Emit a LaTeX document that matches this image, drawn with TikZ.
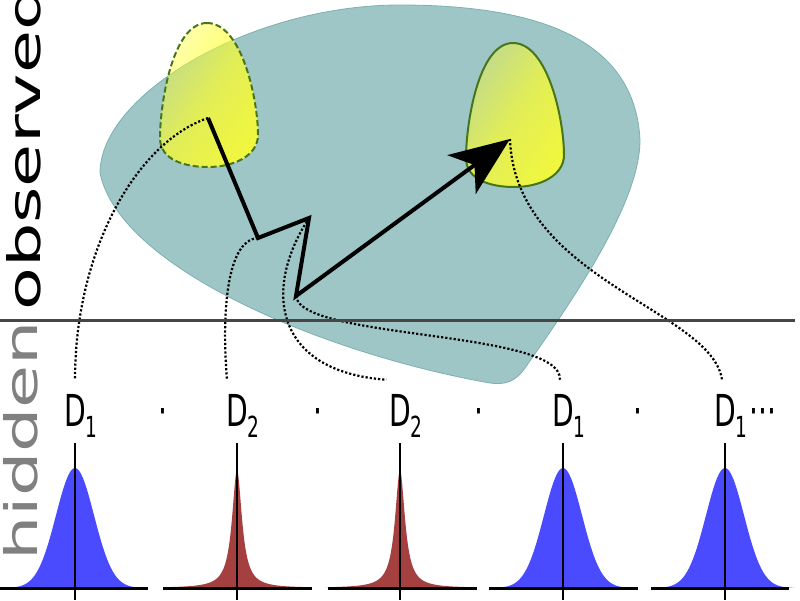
\documentclass[tikz,border=0pt]{standalone}
\usepackage{fontspec}
\setmainfont{DejaVu Sans}
\usetikzlibrary{calc, positioning}
\usetikzlibrary{arrows.meta, fadings}

\definecolor{blobteal}{RGB}{158,198,198}
\definecolor{blobedge}{RGB}{125,176,176}
\definecolor{eggyellow}{RGB}{255,255,40}
\definecolor{eggrim}{RGB}{70,118,25}
\definecolor{gaussblue}{RGB}{74,74,255}
\definecolor{cauchyred}{RGB}{165,64,64}
\definecolor{splitgray}{RGB}{70,70,70}

\begin{tikzfadingfrompicture}[name=egg fade]
	\shade[top color=transparent!95, bottom color=transparent!0, middle color=transparent!30,
	       shading angle=45]
		(-50bp,-50bp) rectangle (50bp,50bp);
\end{tikzfadingfrompicture}

\tikzset{
	egg/.style      = {line width=2pt, draw=eggrim},
	dotlink/.style  = {line width=2.2pt, dash pattern=on 2.2pt off 2pt},
	jump/.style     = {line width=4pt, -{Stealth[length=60pt, width=48pt, inset=16pt]}},
	dlabel/.style   = {anchor=base, inner xsep=4pt, inner ysep=14pt, xscale=.64,
	                   font=\fontsize{44}{44}\selectfont},
	sidetext/.style = {anchor=base west, inner sep=0pt, rotate=90, yscale=.64,
	                   font=\fontsize{70}{70}\selectfont},
	baseaxis/.style = {line width=3pt},
	peakaxis/.style = {line width=1.5pt}
}

\newcommand{\eggpath}{(207,23) .. controls (172,23) and (160,105) .. (160,138)
	.. controls (160,160) and (185,167) .. (208,167)
	.. controls (235,167) and (258,155) .. (258,135)
	.. controls (258,100) and (242,23) .. (207,23) -- cycle}
\newcommand{\dsub}[1]{\raisebox{-11pt}{\fontsize{29}{29}\selectfont #1}}

\begin{document}
\begin{tikzpicture}[x=1pt, y=-1pt]
	\useasboundingbox (0,0) rectangle (800,600);

	% observed region
	\fill[blobteal, draw=blobedge, line width=.8pt]
		(100,173) .. controls (100,95) and (250,5) .. (400,5)
		.. controls (540,5) and (635,40) .. (640,140)
		.. controls (640,200) and (580,290) .. (525,368)
		.. controls (515,382) and (505,385) .. (490,383)
		.. controls (330,355) and (120,270) .. (100,173) -- cycle;
	\fill[eggyellow, path fading=egg fade] \eggpath;
	\draw[egg, dash pattern=on 6pt off 3pt] \eggpath;
	\begin{scope}[shift={(306,20)}]
		\fill[eggyellow, path fading=egg fade] \eggpath;
		\draw[egg] \eggpath;
	\end{scope}

	\coordinate (egga) at (208,118);
	\coordinate (eggb) at (510,139);
	\coordinate (zz1)  at (258,238);
	\coordinate (zz2)  at (309,218);
	\coordinate (zz3)  at (296,296);

	% hidden states
	\foreach \n/\c/\k in {1/75/1, 2/237/2, 3/400/2, 4/563/1}
		\node[dlabel] (lab\n) at (\c,426) {D\rlap{\dsub{\k}}};
	\node[dlabel] (lab5) at (725,426) {D\rlap{\dsub{1}\kern3pt···}};
	\foreach \c [count=\i] in {163,318,479,638}
		\node[dlabel] (sep\i) at (\c,426) {·};

	\draw[dotlink] (egga) .. controls +(-71,24) and +(0,-130) .. (lab1.north);
	\draw[dotlink] (zz1)  .. controls +(-33,2) and +(-5,-60) .. ([xshift=-10pt]lab2.north);
	\draw[dotlink] (zz2)  .. controls +(-47,72) and +(-112,-8) .. (lab3.north west);
	\draw[dotlink] (zz3)  .. controls +(4,44) and +(2,-50) .. ([xshift=-3pt]lab4.north);
	\draw[dotlink] (eggb) .. controls +(5,141) and +(-10,-70) .. ([xshift=-3pt]lab5.north);

	\draw[jump] (egga) -- (zz1) -- (zz2) -- (zz3) -- (eggb);

	\draw[splitgray, line width=3pt] (0,320) -- (795,320);
	\node[sidetext]            (obs) at (40,311) {observed};
	\node[sidetext, text=gray] (hid) at (37,561) {hidden};

	% emission densities
	\foreach \c in {75,563,725}
		\fill[gaussblue] plot[domain=-70:70, samples=71] ({\c+\x}, {588-120*exp(-(\x*\x)/722)});
	\foreach \c in {237,400}
		\fill[cauchyred] plot[domain=-74:74, samples=149] ({\c+\x}, {588-118/(1+(\x/6)*(\x/6))});
	\foreach \c/\l/\r in {75/0/148, 237/163/312, 400/328/477, 563/489/638, 725/651/789} {
		\draw[baseaxis] (\l,588) -- (\r,588);
		\draw[peakaxis] (\c,443) -- (\c,600);
	}
\end{tikzpicture}
\end{document}
